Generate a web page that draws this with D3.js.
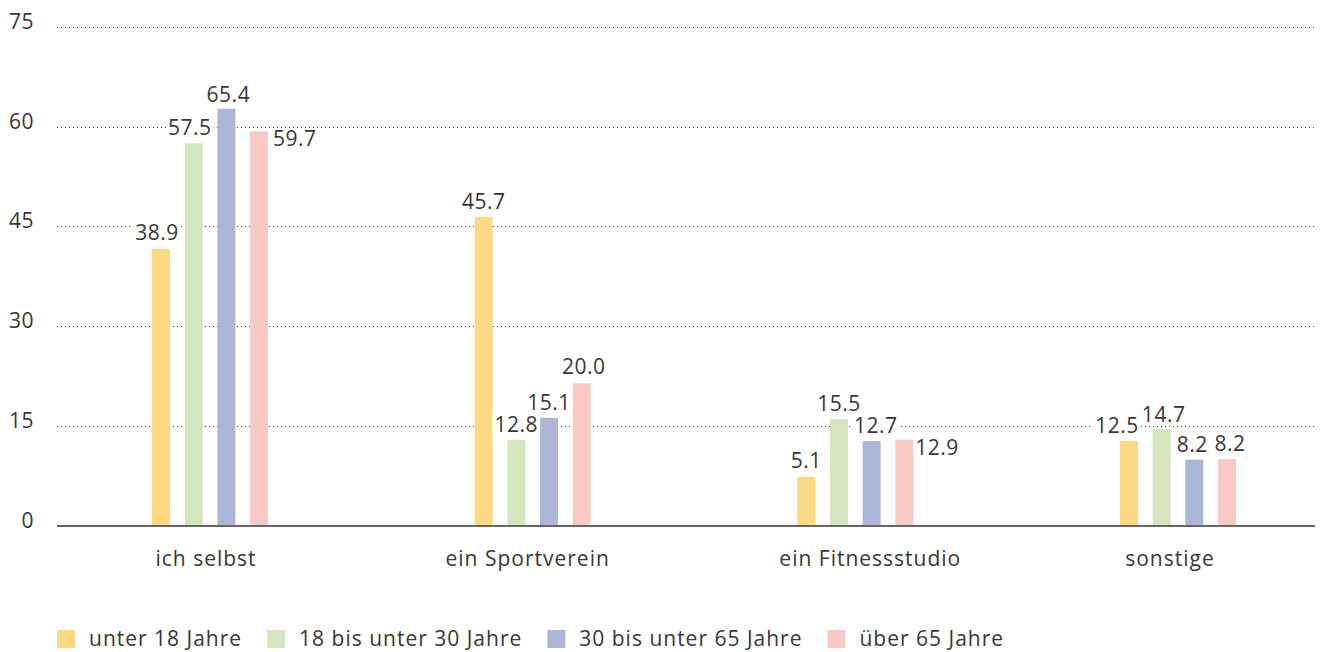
<!DOCTYPE html>
<html>
<head>
<meta charset="utf-8">
<script src="https://cdn.jsdelivr.net/npm/d3@7"></script>
<style>
  body { margin: 0; background: #fff; }
  text { font-family: "Open Sans", "Noto Sans", sans-serif; fill: #383838; letter-spacing: 0.5px; }
  text.word { letter-spacing: 1px; }
</style>
</head>
<body>
<div id="chart"></div>
<script>
// categories and series
var categories = ["ich selbst", "ein Sportverein", "ein Fitnessstudio", "sonstige"];
var seriesNames = ["unter 18 Jahre", "18 bis unter 30 Jahre", "30 bis unter 65 Jahre", "über 65 Jahre"];
var seriesColors = ["#fdd983", "#d3e6be", "#acb6d9", "#f9cac3"];

// bar heights as drawn in the reference
var under18 = [41.6, 46.4, 7.3, 12.7];
var from18to30 = [57.5, 12.9, 16.0, 14.5];
var from30to65 = [62.7, 16.2, 12.7, 9.9];
var over65 = [59.3, 21.4, 12.9, 10.0];

// printed value labels
var under18Labels = ["38.9", "45.7", "5.1", "12.5"];
var from18to30Labels = ["57.5", "12.8", "15.5", "14.7"];
var from30to65Labels = ["65.4", "15.1", "12.7", "8.2"];
var over65Labels = ["59.7", "20.0", "12.9", "8.2"];

var yTicks = [0, 15, 30, 45, 60, 75];

var seriesValues = [under18, from18to30, from30to65, over65];
var seriesLabels = [under18Labels, from18to30Labels, from30to65Labels, over65Labels];

// small label nudges (category index, series index) -> [dx, dy, side]
var labelNudge = {
  "0_0": [-4, -1], "0_1": [-4, 0], "0_2": [2, 1], "0_3": [5, 15, "side"],
  "1_3": [2, -1],
  "2_0": [0, -1], "2_2": [4, 0], "2_3": [2, 15, "side"],
  "3_0": [-12, 0], "3_1": [2, 1], "3_2": [-2, 0], "3_3": [3, 0]
};
var categoryNudge = [-4, -5, 15, -8];

var width = 1325, height = 652;
var svg = d3.select("#chart").append("svg")
  .attr("width", width)
  .attr("height", height);

var plotLeft = 57, plotRight = 1315;

var y = d3.scaleLinear().domain([0, 75]).range([525.5, 27]);
var x0 = d3.scaleBand().domain(categories).range([48.7, 1339.3]);
var x1 = d3.scaleBand().domain(d3.range(seriesNames.length)).range([-58, 58]).paddingInner(0.45);

// gridlines
var grid = svg.append("g").attr("class", "grid");
grid.selectAll("line")
  .data(yTicks.filter(function (d) { return d > 0; }))
  .enter().append("line")
  .attr("x1", plotLeft)
  .attr("x2", plotRight)
  .attr("y1", function (d) { return Math.round(y(d)) + 0.5; })
  .attr("y2", function (d) { return Math.round(y(d)) + 0.5; })
  .attr("stroke", "#444")
  .attr("stroke-width", 1)
  .attr("stroke-dasharray", "1,3");

// y tick labels
svg.append("g")
  .selectAll("text")
  .data(yTicks)
  .enter().append("text")
  .attr("x", 34)
  .attr("y", function (d) { return y(d) + 2; })
  .attr("text-anchor", "end")
  .style("font-size", "21px")
  .text(function (d) { return d; });

// bars
var rows = [];
categories.forEach(function (c, ci) {
  seriesValues.forEach(function (vals, si) {
    rows.push({ cat: c, ci: ci, si: si, value: vals[ci], label: seriesLabels[si][ci] });
  });
});

var center = function (d) { return x0(d.cat) + x0.bandwidth() / 2; };

svg.append("g")
  .selectAll("rect")
  .data(rows)
  .enter().append("rect")
  .attr("x", function (d) { return center(d) + x1(d.si); })
  .attr("y", function (d) { return y(d.value); })
  .attr("width", x1.bandwidth())
  .attr("height", function (d) { return y(0) - y(d.value); })
  .attr("fill", function (d) { return seriesColors[d.si]; });

// baseline
svg.append("line")
  .attr("x1", plotLeft)
  .attr("x2", plotRight)
  .attr("y1", y(0) + 0.5)
  .attr("y2", y(0) + 0.5)
  .attr("stroke", "#666")
  .attr("stroke-width", 2);

// value labels with white background
var labels = svg.append("g")
  .selectAll("g")
  .data(rows)
  .enter().append("g")
  .attr("transform", function (d) {
    var n = labelNudge[d.ci + "_" + d.si] || [0, 0];
    var bx = center(d) + x1(d.si);
    var top = y(d.value);
    if (n[2] === "side") {
      return "translate(" + (bx + x1.bandwidth() + n[0]) + "," + (top + n[1]) + ")";
    }
    return "translate(" + (bx + x1.bandwidth() / 2 + n[0]) + "," + (top - 8 + n[1]) + ")";
  });

labels.append("rect").attr("fill", "#fff");
labels.append("text")
  .attr("text-anchor", function (d) {
    var n = labelNudge[d.ci + "_" + d.si];
    return n && n[2] === "side" ? "start" : "middle";
  })
  .style("font-size", "21px")
  .text(function (d) { return d.label; });

labels.each(function () {
  var g = d3.select(this);
  var bb = g.select("text").node().getBBox();
  g.select("rect")
    .attr("x", bb.x - 2)
    .attr("y", -17)
    .attr("width", bb.width + 4)
    .attr("height", 19);
});

// category labels
svg.append("g")
  .selectAll("text")
  .data(categories)
  .enter().append("text")
  .attr("class", "word")
  .attr("x", function (d, i) { return x0(d) + x0.bandwidth() / 2 + categoryNudge[i]; })
  .attr("y", 566)
  .attr("text-anchor", "middle")
  .style("font-size", "21px")
  .text(function (d) { return d; });

// legend
var legend = svg.append("g").attr("class", "legend");
var lx = plotLeft;
seriesNames.forEach(function (name, i) {
  legend.append("rect")
    .attr("x", lx)
    .attr("y", 630)
    .attr("width", 18)
    .attr("height", 18)
    .attr("fill", seriesColors[i]);
  var t = legend.append("text")
    .attr("class", "word")
    .attr("x", lx + 32)
    .attr("y", 646)
    .style("font-size", "21px")
    .text(name);
  lx = lx + 32 + t.node().getComputedTextLength() + 25;
});
</script>
</body>
</html>
